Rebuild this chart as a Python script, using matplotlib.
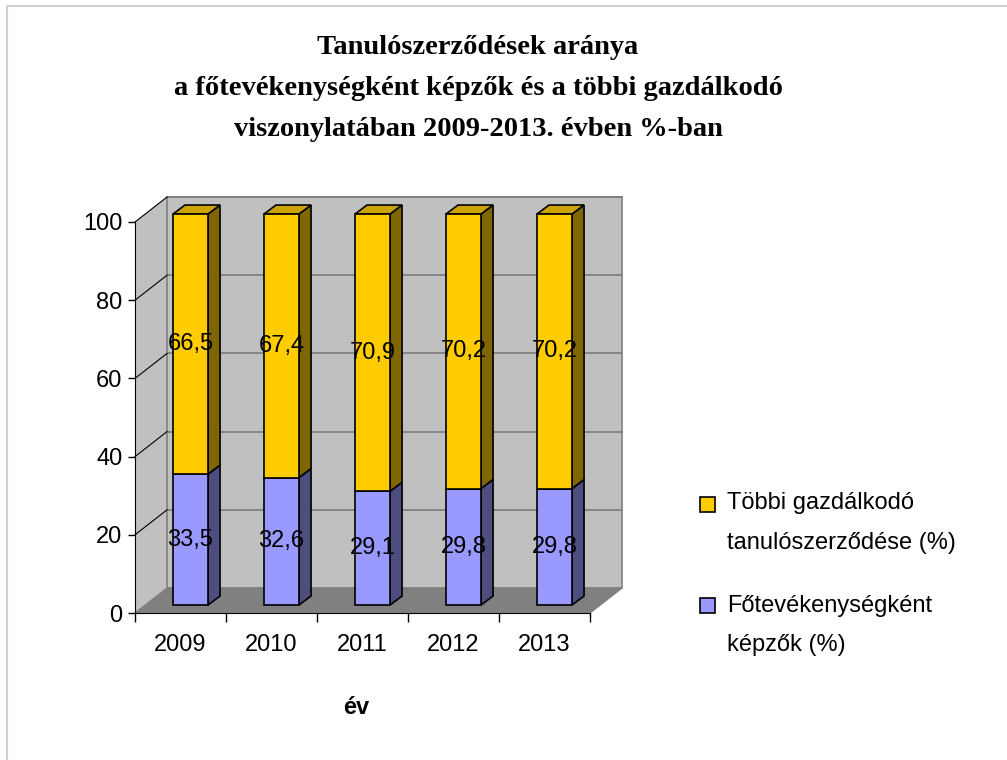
import matplotlib
matplotlib.use("Agg")
import matplotlib.pyplot as plt
from matplotlib.patches import Polygon, Rectangle

# Data
years = ["2009", "2010", "2011", "2012", "2013"]
fo_share = [33.5, 32.6, 29.1, 29.8, 29.8]        # Főtevékenységként képzők (%)
other_share = [66.5, 67.4, 70.9, 70.2, 70.2]     # Többi gazdálkodó tanulószerződése (%)
y_ticks = [0, 20, 40, 60, 80, 100]
title_lines = ["Tanulószerződések aránya",
               "a főtevékenységként képzők és a többi gazdálkodó",
               "viszonylatában 2009-2013. évben %-ban"]
legend_labels = [["Többi gazdálkodó", "tanulószerződése (%)"],
                 ["Főtevékenységként", "képzők (%)"]]

# Colours (front, side, top)
yellow = ("#FFCC00", "#806600", "#CCA300")
blue = ("#9999FF", "#4D4D80", "#7A7ACC")

# 3D look: depth of the walls, and offset/depth of the bars (data units)
DX, DY = 0.352, 6.39
OX, OY = 0.11, 2.04
BX, BY = 0.132, 2.3
W = 0.385

SANS = ["Liberation Sans", "DejaVu Sans"]
FS = 17

fig = plt.figure(figsize=(10.07, 7.6), dpi=100)
ax = fig.add_axes([135 / 1007, 147 / 760, 455 / 1007, 391 / 760])
ax.set_facecolor("none")
ax.set_xlim(-0.5, 4.5)
ax.set_ylim(0, 100)

x0, x1 = -0.5, 4.5

# floor, side wall, back wall
floor = Polygon([(x0, 0), (x1, 0), (x1 + DX, DY), (x0 + DX, DY)],
                closed=True, fc="#808080", ec="#808080", lw=1, zorder=0, clip_on=False)
side = Polygon([(x0, 0), (x0, 100), (x0 + DX, 100 + DY), (x0 + DX, DY)],
               closed=True, fc="#C0C0C0", ec="none", zorder=0, clip_on=False)
back = Polygon([(x0 + DX, DY), (x1 + DX, DY), (x1 + DX, 100 + DY), (x0 + DX, 100 + DY)],
               closed=True, fc="#C0C0C0", ec="#808080", lw=1.2, zorder=0, clip_on=False)
for p in (side, back, floor):
    ax.add_patch(p)

# gridlines on the walls
for v in y_ticks[1:]:
    ax.plot([x0 + DX, x1 + DX], [v + DY, v + DY], color="#808080", lw=1.3,
            zorder=1, clip_on=False)
    ax.plot([x0, x0 + DX], [v, v + DY], color="black", lw=0.8, zorder=1, clip_on=False)


def box(i, y0, y1, cols, with_top):
    left = i + OX - W / 2
    b0, b1 = y0 + OY, y1 + OY
    ax.add_patch(Polygon([(left + W, b0), (left + W + BX, b0 + BY),
                          (left + W + BX, b1 + BY), (left + W, b1)],
                         closed=True, fc=cols[1], ec="black", lw=1.2, zorder=3,
                         clip_on=False))
    if with_top:
        ax.add_patch(Polygon([(left, b1), (left + W, b1), (left + W + BX, b1 + BY),
                              (left + BX, b1 + BY)],
                             closed=True, fc=cols[2], ec="black", lw=1.2, zorder=3,
                             clip_on=False))
    ax.add_patch(Rectangle((left, b0), W, y1 - y0, fc=cols[0], ec="black", lw=1.2,
                           zorder=4, clip_on=False))


for i in range(len(years)):
    lo = fo_share[i]
    hi = fo_share[i] + other_share[i]
    box(i, 0, lo, blue, False)
    box(i, lo, hi, yellow, True)
    ax.text(i + OX, lo / 2 + OY, f"{fo_share[i]:.1f}".replace(".", ","),
            ha="center", va="center", fontsize=FS, family=SANS, zorder=6)
    ax.text(i + OX, lo + other_share[i] / 2 + OY, f"{other_share[i]:.1f}".replace(".", ","),
            ha="center", va="center", fontsize=FS, family=SANS, zorder=6)

# axes
for s in ("top", "right"):
    ax.spines[s].set_visible(False)
ax.spines["left"].set_zorder(5)
ax.spines["bottom"].set_zorder(5)

ax.set_yticks(y_ticks)
ax.set_yticklabels([str(v) for v in y_ticks], fontsize=FS, family=SANS)
ax.tick_params(axis="y", length=5, width=1, pad=4)

ax.set_xticks(range(len(years)))
ax.set_xticklabels(years, fontsize=FS, family=SANS)
ax.set_xticks([k - 0.5 for k in range(len(years) + 1)], minor=True)
ax.tick_params(axis="x", which="major", length=0, pad=15)
ax.tick_params(axis="x", which="minor", length=6.5, width=1)
ax.set_xlabel("év", fontsize=FS, fontweight="bold", family=SANS)
ax.xaxis.set_label_coords((356 - 135) / 455, -(707 - 613) / 391)
ax.xaxis.label.set_va("center")

# title
for k, line in enumerate(title_lines):
    fig.text(478 / 1007, 1 - (47 + 41.5 * k) / 760, line, ha="center", va="center",
             fontsize=20.5, fontweight="bold", family=["Liberation Serif", "DejaVu Serif"])

# legend
sq_y = [497, 598]
ln_y = [(503, 543), (606, 645)]
for k, cols in enumerate([yellow, blue]):
    fig.patches.append(Rectangle((700 / 1007, 1 - (sq_y[k] + 15) / 760), 15 / 1007, 15 / 760,
                                 transform=fig.transFigure, fc=cols[0], ec="black", lw=1.2))
    for line, yy in zip(legend_labels[k], ln_y[k]):
        fig.text(727 / 1007, 1 - yy / 760, line, ha="left", va="center",
                 fontsize=FS, family=SANS)

# outer chart border
fig.add_artist(plt.Line2D([7 / 1007, 7 / 1007], [0, 1 - 6 / 760], transform=fig.transFigure,
                          color="#D0D0D0", lw=1.5))
fig.add_artist(plt.Line2D([7 / 1007, 1], [1 - 6 / 760, 1 - 6 / 760], transform=fig.transFigure,
                          color="#D0D0D0", lw=1.5))

fig.savefig("out.png", dpi=100)
